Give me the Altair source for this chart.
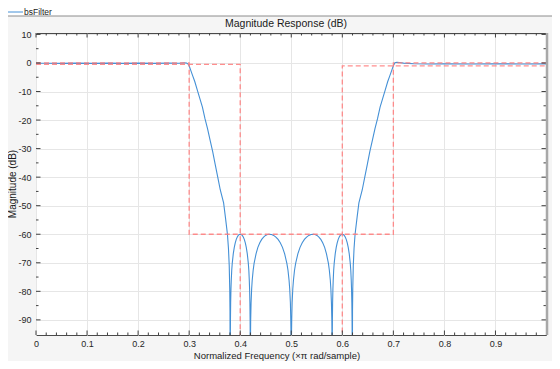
import altair as alt
import pandas as pd

# ---- data ----
freq = [
    0.000, 0.020, 0.050, 0.080, 0.110, 0.140, 0.170, 0.200, 0.230, 0.260, 0.280, 0.290, 0.295, 0.298,
    0.300, 0.303, 0.307, 0.311, 0.316, 0.321, 0.326, 0.331, 0.336, 0.341, 0.346, 0.351, 0.356, 0.361,
    0.3675, 0.371, 0.375, 0.377, 0.3785, 0.3795, 0.3800, 0.3805,
    0.3807, 0.3809, 0.3813, 0.3819, 0.3825, 0.3834, 0.3844, 0.3864, 0.3884, 0.3903, 0.3923, 0.3943,
    0.3962, 0.3982, 0.4002, 0.4021, 0.4041, 0.4060, 0.4080, 0.4100, 0.4119, 0.4139, 0.4159, 0.4169,
    0.4178, 0.4184, 0.4190, 0.4194, 0.4196, 0.4198,
    0.4202, 0.4205, 0.4213, 0.4224, 0.4235, 0.4254, 0.4272, 0.4310, 0.4346, 0.4384, 0.4421, 0.4458,
    0.4496, 0.4533, 0.4570, 0.4613, 0.4656, 0.4699, 0.4742, 0.4785, 0.4828, 0.4871, 0.4914, 0.4936,
    0.4957, 0.4970, 0.4983, 0.4991, 0.4996, 0.5000,
    0.5004, 0.5009, 0.5017, 0.5030, 0.5043, 0.5064, 0.5086, 0.5129, 0.5172, 0.5215, 0.5258, 0.5301,
    0.5344, 0.5387, 0.5430, 0.5467, 0.5504, 0.5542, 0.5579, 0.5616, 0.5654, 0.5690, 0.5728, 0.5746,
    0.5765, 0.5776, 0.5787, 0.5795, 0.5798, 0.5802,
    0.5804, 0.5806, 0.5810, 0.5816, 0.5822, 0.5831, 0.5841, 0.5861, 0.5881, 0.5900, 0.5920, 0.5940,
    0.5959, 0.5979, 0.5998, 0.6018, 0.6038, 0.6057, 0.6077, 0.6097, 0.6116, 0.6136, 0.6156, 0.6166,
    0.6175, 0.6181, 0.6187, 0.6191, 0.6193, 0.6195,
    0.6200, 0.6205, 0.6215, 0.623, 0.625, 0.629, 0.6325, 0.639, 0.644, 0.649, 0.654, 0.659,
    0.664, 0.669, 0.674, 0.679, 0.684, 0.689, 0.693, 0.697, 0.700,
    0.703, 0.707, 0.712, 0.720, 0.740, 0.770, 0.800, 0.850, 0.900, 0.950, 0.999,
]
mag_db = [
    -0.10, -0.08, -0.15, -0.05, -0.15, -0.05, -0.15, -0.05, -0.15, -0.05, -0.10, 0.05, 0.00, -0.40,
    -1.0, -2.5, -4.5, -6.5, -9.5, -12.5, -15.5, -19.5, -23.0, -27.0, -31.0, -35.5, -40.0, -44.5,
    -49.0, -54.0, -60.0, -65.0, -71.0, -79.0, -87.0, -130.0,
    -96.1, -90.1, -84.0, -79.2, -76.1, -72.6, -70.2, -66.9, -64.6, -63.0, -61.8, -61.0,
    -60.4, -60.1, -60.0, -60.1, -60.4, -61.0, -61.8, -63.0, -64.6, -66.9, -70.2, -72.6,
    -76.1, -79.2, -84.0, -90.1, -96.1, -130.0,
    -96.1, -90.1, -84.0, -79.2, -76.1, -72.6, -70.2, -66.9, -64.6, -63.0, -61.8, -61.0,
    -60.4, -60.1, -60.0, -60.1, -60.4, -61.0, -61.8, -63.0, -64.6, -66.9, -70.2, -72.6,
    -76.1, -79.2, -84.0, -90.1, -96.1, -130.0,
    -96.1, -90.1, -84.0, -79.2, -76.1, -72.6, -70.2, -66.9, -64.6, -63.0, -61.8, -61.0,
    -60.4, -60.1, -60.0, -60.1, -60.4, -61.0, -61.8, -63.0, -64.6, -66.9, -70.2, -72.6,
    -76.1, -79.2, -84.0, -90.1, -96.1, -130.0,
    -96.1, -90.1, -84.0, -79.2, -76.1, -72.6, -70.2, -66.9, -64.6, -63.0, -61.8, -61.0,
    -60.4, -60.1, -60.0, -60.1, -60.4, -61.0, -61.8, -63.0, -64.6, -66.9, -70.2, -72.6,
    -76.1, -79.2, -84.0, -90.1, -96.1, -130.0,
    -87.0, -79.0, -71.0, -65.0, -60.0, -54.0, -49.0, -44.5, -40.0, -35.5, -31.0, -27.0,
    -23.0, -19.5, -15.5, -12.5, -9.5, -6.5, -4.5, -2.5, -1.0,
    0.10, 0.25, 0.15, -0.05, -0.25, -0.35, -0.30, -0.35, -0.30, -0.35, -0.30,
]

mask_seg = ["a", "a", "a", "a", "a", "a", "b", "b", "b", "c", "c", "c"]
mask_x = [0.0, 0.3, 0.3, 0.7, 0.7, 0.999, 0.0, 0.4, 0.4, 0.6, 0.6, 0.999]
mask_y = [0.0, 0.0, -60.0, -60.0, 0.0, 0.0, -0.5, -0.5, -100.0, -100.0, -1.0, -1.0]

x_major = [0.0, 0.1, 0.2, 0.3, 0.4, 0.5, 0.6, 0.7, 0.8, 0.9]
x_minor = [0.02, 0.04, 0.06, 0.08, 0.12, 0.14, 0.16, 0.18, 0.22, 0.24, 0.26, 0.28,
           0.32, 0.34, 0.36, 0.38, 0.42, 0.44, 0.46, 0.48, 0.52, 0.54, 0.56, 0.58,
           0.62, 0.64, 0.66, 0.68, 0.72, 0.74, 0.76, 0.78, 0.82, 0.84, 0.86, 0.88,
           0.92, 0.94, 0.96, 0.98]
y_major = [10, 0, -10, -20, -30, -40, -50, -60, -70, -80, -90]
y_minor = [5, -5, -15, -25, -35, -45, -55, -65, -75, -85]

title_text = "Magnitude Response (dB)"
x_title = "Normalized Frequency (\u00d7\u03c0 rad/sample)"
y_title = "Magnitude (dB)"
legend_label = "bsFilter"

# ---- chart ----
W, H = 510, 302
FONT = "Liberation Sans"
xs = alt.Scale(domain=[0, 0.999], nice=False, zero=False)
ys = alt.Scale(domain=[-95.3, 10.5], nice=False, zero=False)

curve_df = pd.DataFrame({"f": freq, "m": mag_db, "i": list(range(len(freq)))})
mask_df = pd.DataFrame({"s": mask_seg, "f": mask_x, "m": mask_y, "i": list(range(len(mask_x)))})
one = pd.DataFrame({"k": [0]})

xaxis = alt.Axis(values=x_major, labelExpr="toString(datum.value)", grid=True, gridColor="#e6e6e6",
                 ticks=False, domain=False, labelFontSize=9, labelColor="#262626", labelFont=FONT,
                 labelPadding=4, labelFlush=False, labelOverlap=False, title=None)
yaxis = alt.Axis(values=y_major, labelExpr="toString(datum.value)", grid=True, gridColor="#e6e6e6",
                 ticks=False, domain=False, labelFontSize=9, labelColor="#262626", labelFont=FONT,
                 labelPadding=5, labelFlush=False, labelOverlap=False, title=None)

curve = alt.Chart(curve_df).mark_line(color="#4490d6", strokeWidth=1.1, clip=True).encode(
    x=alt.X("f:Q", scale=xs, axis=xaxis),
    y=alt.Y("m:Q", scale=ys, axis=yaxis),
    order="i:Q",
)

mask = alt.Chart(mask_df).mark_line(color="#ff7a7a", strokeWidth=1.3, strokeDash=[5, 3],
                                     opacity=0.85, clip=True).encode(
    x=alt.X("f:Q", scale=xs, axis=xaxis),
    y=alt.Y("m:Q", scale=ys, axis=yaxis),
    detail="s:N",
    order="i:Q",
)

TC = "#404040"
def xticks(vals, length):
    df = pd.DataFrame({"f": vals})
    b = alt.Chart(df).mark_rule(color=TC, strokeWidth=1).encode(
        x=alt.X("f:Q", scale=xs, axis=xaxis), y=alt.value(H), y2=alt.value(H - length))
    t = alt.Chart(df).mark_rule(color=TC, strokeWidth=1).encode(
        x=alt.X("f:Q", scale=xs, axis=xaxis), y=alt.value(0), y2=alt.value(length))
    return [b, t]

def yticks(vals, length):
    df = pd.DataFrame({"m": vals})
    l = alt.Chart(df).mark_rule(color=TC, strokeWidth=1).encode(
        y=alt.Y("m:Q", scale=ys, axis=yaxis), x=alt.value(0), x2=alt.value(length))
    r = alt.Chart(df).mark_rule(color=TC, strokeWidth=1).encode(
        y=alt.Y("m:Q", scale=ys, axis=yaxis), x=alt.value(W), x2=alt.value(W - length))
    return [l, r]

ticks = xticks(x_major, 4.5) + xticks(x_minor, 2.5) + yticks(y_major, 4.5) + yticks(y_minor, 2.5)

right_bar = alt.Chart(one).mark_rule(color="#a8a8a8", strokeWidth=2.5).encode(
    x=alt.value(W + 1), y=alt.value(0), y2=alt.value(H))

band = alt.Chart(one).mark_rect(color="white").encode(
    x=alt.value(-28), x2=alt.value(W + 6), y=alt.value(-25), y2=alt.value(-17))
sep = alt.Chart(one).mark_rule(color="#8c8c8c", strokeWidth=1).encode(
    x=alt.value(-28), x2=alt.value(W + 6), y=alt.value(-17))
leg_line = alt.Chart(one).mark_rule(color="#4490d6", strokeWidth=1).encode(
    x=alt.value(-32), x2=alt.value(-13), y=alt.value(-21))
leg_text = alt.Chart(one).mark_text(text=legend_label, font=FONT, fontSize=8.5, color="#1a1a1a",
                                    align="left", baseline="middle").encode(
    x=alt.value(-12), y=alt.value(-21))

title = alt.Chart(one).mark_text(text=title_text, font=FONT, fontSize=10.5, color="#1a1a1a",
                                 align="center", baseline="middle").encode(
    x=alt.value(250), y=alt.value(-9))
xtitle = alt.Chart(one).mark_text(text=x_title, font=FONT, fontSize=9.5, color="#1a1a1a",
                                  align="center", baseline="middle").encode(
    x=alt.value(241), y=alt.value(322.5))
ytitle = alt.Chart(one).mark_text(text=y_title, font=FONT, fontSize=10, color="#1a1a1a",
                                  align="center", baseline="middle", angle=270).encode(
    x=alt.value(-23.5), y=alt.value(151))

chart = alt.layer(
    curve, mask, *ticks, right_bar, band, sep, leg_line, leg_text, title, xtitle, ytitle
).properties(
    width=W, height=H,
    background="#f5f5f5",
    padding={"left": 28, "top": 25, "right": 6, "bottom": 26},
    autosize=alt.AutoSizeParams(type="none"),
).configure_view(stroke="#4a4a4a", strokeWidth=1, fill="white")

chart.save("out.html", embed_options={"renderer": "svg", "actions": False})
